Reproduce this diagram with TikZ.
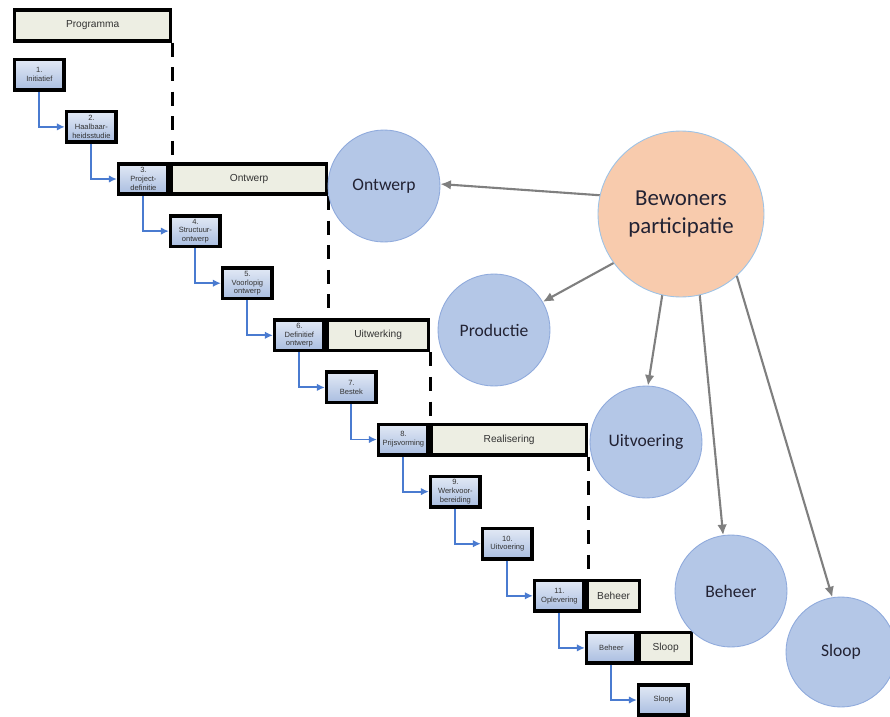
\documentclass[tikz,border=0pt]{standalone}
\usepackage{fontspec}
\setmainfont{Carlito}
\newfontfamily\boxfont{Liberation Sans}
\usetikzlibrary{positioning,arrows.meta,calc}
\definecolor{fasetop}  {HTML}{E2E9F5}
\definecolor{fasebot}  {HTML}{A9BDE0}
\definecolor{balkfill} {HTML}{EDEEE3}
\definecolor{boxtext}  {HTML}{333333}
\definecolor{stapblue} {HTML}{4A7BD0}
\definecolor{bolfill}  {HTML}{B4C7E7}
\definecolor{bolrand}  {HTML}{8FAADC}
\definecolor{bewfill}  {HTML}{F8CBAD}
\definecolor{bewrand}  {HTML}{9DC3E6}
\definecolor{boltext}  {HTML}{222233}
\definecolor{pijlgrey} {HTML}{7F7F7F}
\tikzset{
  % --- nodes
  fase/.style = {draw=black, line width=2pt, top color=fasetop, bottom color=fasebot,
                 minimum width=0.99cm, minimum height=0.61cm, inner sep=0.5pt,
                 align=center, text=boxtext, font=\boxfont\fontsize{4.3}{5}\selectfont},
  balk/.style = {draw=black, line width=2pt, fill=balkfill, minimum height=0.61cm,
                 inner sep=1pt, anchor=west, text=boxtext,
                 font=\boxfont\fontsize{5.8}{7}\selectfont},
  bol/.style  = {circle, draw=bolrand, line width=0.5pt, fill=bolfill, minimum size=2.24cm,
                 inner sep=0pt, align=center, text=boltext, font=\fontsize{10}{12}\selectfont},
  bew/.style  = {bol, draw=bewrand, fill=bewfill, minimum size=3.32cm,
                 font=\fontsize{13}{16}\selectfont},
  % --- edges
  stip/.style = {line width=1.9pt, dash pattern=on 8pt off 6pt},
  stap/.style = {-{Latex[length=4.5pt,width=4.2pt]}, draw=stapblue, line width=1.1pt},
  pijl/.style = {-{Latex[length=6pt,width=5.5pt]}, draw=pijlgrey, line width=1.2pt},
}
\begin{document}
\begin{tikzpicture}[x=0.02cm, y=-0.02cm]
  \useasboundingbox (0,0) rectangle (890,717);
  % fasen
  \foreach \i/\txt in {1/{1.\\Initiatief}, 2/{2.\\Haalbaar-\\heidsstudie},
                       3/{3.\\Project-\\definitie}, 4/{4.\\Structuur-\\ontwerp},
                       5/{5.\\Voorlopig\\ontwerp}, 6/{6.\\Definitief\\ontwerp},
                       7/{7.\\Bestek}, 8/{8.\\Prijsvorming}, 9/{9.\\Werkvoor-\\bereiding},
                       10/{10.\\Uitvoering}, 11/{11.\\Oplevering}, 12/{Beheer}, 13/{Sloop}}
    \node[fase] (b\i) at ({39.4+52*(\i-1)}, {74.8+52.1*(\i-1)}) {\txt};
  \foreach \a [count=\b from 2] in {1,...,12} \draw[stap] (b\a.south) |- (b\b.west);
  % balken
  \node[balk, minimum width=3.12cm] (prog) at ($(b3.east |- 0,25.5)+(-157,0)$) {Programma};
  \node[balk, minimum width=3.1cm] (ontw) at (b3.east) {Ontwerp};
  \node[balk, minimum width=2.02cm] (uitw) at (b6.east) {Uitwerking};
  \node[balk, minimum width=3.1cm] (real) at (b8.east) {Realisering};
  \node[balk, minimum width=1.04cm] (beh) at (b11.east) {Beheer};
  \node[balk, minimum width=1.04cm] (sloop) at (b12.east) {Sloop};
  \draw[stip] (prog.south east) -- (prog.south east |- b3.north);
  \draw[stip] (ontw.south east) -- (ontw.south east |- b6.north);
  \draw[stip] (uitw.south east) -- (uitw.south east |- b8.north);
  \draw[stip] (real.south east) -- (real.south east |- b11.north);
  % participatie
  \node[bew] (bew) at (681,214) {Bewoners\\participatie};
  \node[bol] (cOntw) at (384,186) {Ontwerp};
  \node[bol] (cProd) at (494,330) {Productie};
  \node[bol] (cUitv) at (646,442) {Uitvoering};
  \node[bol] (cBeh) at (731,591) {Beheer};
  \node[bol, minimum size=2.2cm] (cSloop) at (841,652) {Sloop};
  \draw[pijl] (bew.167) -- (cOntw.2);
  \draw[pijl] (bew.216) -- (cProd.30);
  \draw[pijl] (bew.257) -- (cUitv.88);
  \draw[pijl] (bew.283) -- (cBeh.98);
  \draw[pijl] (bew.312) -- (cSloop.99);
\end{tikzpicture}
\end{document}
